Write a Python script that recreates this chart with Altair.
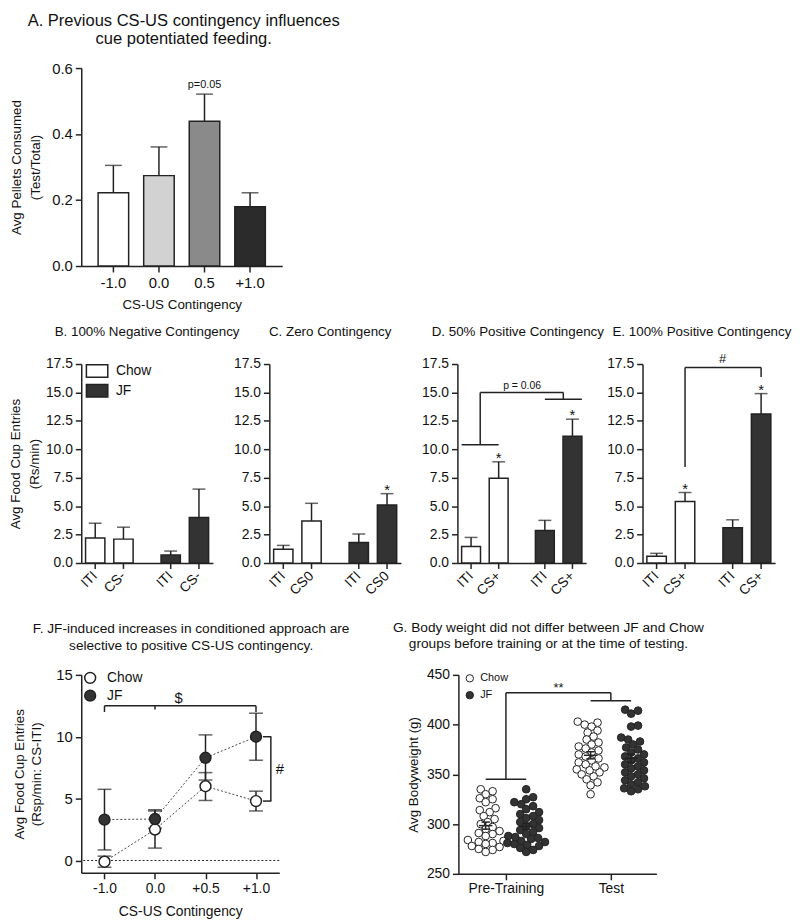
import altair as alt
import pandas as pd
import numpy as np

FONT = "Liberation Sans"
INK = "#222222"
DARK = "#333333"
TXT = "#111111"

# ---------------- Panel A data ----------------
a_cats = ["-1.0", "0.0", "0.5", "+1.0"]
a_mean = [0.222, 0.274, 0.439, 0.180]
a_upper = [0.305, 0.361, 0.521, 0.222]
a_note = ["", "", "p=0.05", ""]
A_FILLS = ["#ffffff", "#d2d2d2", "#8a8a8a", "#2b2b2b"]

# ---------------- Panels B-E data ----------------
groups = ["Chow", "Chow", "JF", "JF"]
conds = ["ITI", "CS", "ITI", "CS"]

b_labels = ["ITI", "CS-", "ITI", "CS-"]
b_mean = [2.2, 2.1, 0.7, 4.0]
b_upper = [3.5, 3.15, 1.05, 6.5]
b_star = ["", "", "", ""]

c_labels = ["ITI", "CS0", "ITI", "CS0"]
c_mean = [1.2, 3.7, 1.8, 5.1]
c_upper = [1.55, 5.25, 2.55, 6.1]
c_star = ["", "", "", "*"]

d_labels = ["ITI", "CS+", "ITI", "CS+"]
d_mean = [1.45, 7.45, 2.85, 11.15]
d_upper = [2.25, 8.9, 3.75, 12.65]
d_star = ["", "*", "", "*"]

e_labels = ["ITI", "CS+", "ITI", "CS+"]
e_mean = [0.6, 5.4, 3.1, 13.1]
e_upper = [0.85, 6.2, 3.8, 14.9]
e_star = ["", "*", "", "*"]

# brackets (y levels in data units)
d_br_low, d_br_top, d_br_jf = 10.4, 15.0, 14.4
e_br_start, e_br_top, e_br_end = 8.45, 17.2, 16.35

# ---------------- Panel F data ----------------
f_cats = ["-1.0", "0.0", "+0.5", "+1.0"]
f_chow = [-0.1, 2.5, 6.0, 4.8]
f_chow_lo = [-0.55, 1.0, 4.85, 4.0]
f_chow_hi = [0.35, 4.0, 7.1, 5.6]
f_jf = [3.3, 3.35, 8.3, 10.0]
f_jf_lo = [0.85, 2.6, 6.5, 8.1]
f_jf_hi = [5.75, 4.1, 10.15, 11.9]
f_dollar_y, f_hash_top, f_hash_bot = 12.5, 10.0, 4.8

# ---------------- Panel G data ----------------
g_chow_pre = [335, 333, 330, 326, 325, 322, 316, 314, 312, 308, 305, 302, 300, 297, 295,
              293, 291, 290, 288, 286, 284, 283, 282, 281, 280, 278, 277, 275, 274, 272]
g_jf_pre = [335, 327, 325, 322, 320, 318, 315, 312, 310, 308, 306, 304, 302, 300, 298, 296,
            294, 292, 290, 288, 286, 285, 283, 282, 280, 279, 278, 276, 274, 272, 281, 287]
g_chow_test = [403, 402, 400, 398, 394, 392, 388, 385, 382, 380, 378, 376, 374, 372, 370, 368,
               366, 364, 362, 360, 357, 355, 352, 350, 348, 345, 342, 339, 330, 354, 358]
g_jf_test = [415, 414, 411, 399, 398, 387, 385, 383, 380, 377, 375, 372, 370, 368, 366, 364,
             362, 360, 358, 356, 354, 352, 350, 348, 346, 344, 342, 340, 338, 336, 335, 333]
g_br_low, g_br_top, g_br_test = 345, 432, 424


def ttl(text, size, off, dx=0, lh=None, dy=0):
    kw = dict(text=text, fontSize=size, offset=off, frame="group", anchor="middle",
              dx=dx, dy=dy, fontWeight="normal", font=FONT, color=TXT)
    if lh is not None:
        kw["lineHeight"] = lh
    return alt.TitleParams(**kw)


# ======================= Panel A =======================
a_df = pd.DataFrame({"c": a_cats, "mean": a_mean, "upper": a_upper, "note": a_note})
A_W, A_H = 203, 200
xa_scale = alt.Scale(domain=a_cats, paddingInner=0.33, paddingOuter=0.37)
xa_axis = alt.Axis(title="CS-US Contingency", labelAngle=0, labelFontSize=15, titleFontSize=13.5,
                   labelPadding=4, titlePadding=7)
ya_scale = alt.Scale(domain=[0, 0.6], nice=False)
ya_axis = alt.Axis(values=[0, 0.2, 0.4, 0.6], format=".1f", labelFontSize=15,
                   title=["Avg Pellets Consumed", "(Test/Total)"], titleFontSize=13.5,
                   titleLineHeight=20, titlePadding=9)


def xa():
    return alt.X("c:N", scale=xa_scale, axis=xa_axis)


def ya(f):
    return alt.Y(f, scale=ya_scale, axis=ya_axis)


baseA = alt.Chart(a_df)
a_bars = baseA.mark_bar(stroke=INK, strokeWidth=1.5).encode(
    x=xa(), y=ya("mean:Q"),
    fill=alt.Fill("c:N", scale=alt.Scale(domain=a_cats, range=A_FILLS), legend=None))
a_err = baseA.mark_rule(color=INK, strokeWidth=1.5).encode(x=xa(), y=ya("mean:Q"), y2="upper:Q")
a_cap = baseA.mark_tick(color=INK, thickness=1.5, size=17).encode(x=xa(), y=ya("upper:Q"))
a_txt = baseA.mark_text(fontSize=11, dy=-6, baseline="alphabetic", color=TXT).encode(
    x=xa(), y=ya("upper:Q"), text="note:N")
panelA = alt.layer(a_err, a_cap, a_bars, a_txt).properties(
    width=A_W, height=A_H,
    title=ttl(["A. Previous CS-US contingency influences", "cue potentiated feeding."], 16.7, 14, 2, 18))

# ======================= Panels B-E =======================
BAR_H = 201
G_PI, G_PO = 0.37, 0.057
O_PI = 0.316
BP_ITI, BP_CS = 0.203, 0.797


def bar_panel(title, tdx, labels, means, uppers, stars, width, ytitle, legend, extras, tdy=0):
    df = pd.DataFrame({"g": groups, "cond": conds, "lab": labels, "mean": means,
                       "upper": uppers, "star": stars})
    gscale = alt.Scale(domain=["Chow", "JF"], paddingInner=G_PI, paddingOuter=G_PO)
    gaxis = alt.Axis(labels=False, ticks=False, title=None)
    yscale = alt.Scale(domain=[0, 17.5], nice=False)
    yaxis = alt.Axis(values=[0, 2.5, 5, 7.5, 10, 12.5, 15, 17.5], format=".1f", labelFontSize=14,
                     title=ytitle, titleFontSize=13.5, titleLineHeight=19, titlePadding=4)

    def X(bp=None):
        if bp is None:
            return alt.X("g:N", scale=gscale, axis=gaxis)
        return alt.X("g:N", scale=gscale, axis=gaxis, bandPosition=bp)

    def Y(f):
        return alt.Y(f, scale=yscale, axis=yaxis)

    xo = alt.XOffset("cond:N", scale=alt.Scale(domain=["ITI", "CS"], paddingInner=O_PI, paddingOuter=0))
    base = alt.Chart(df).encode(x=X(), xOffset=xo)
    bars = base.mark_bar(stroke=INK, strokeWidth=1.5).encode(
        y=Y("mean:Q"),
        fill=alt.Fill("g:N", scale=alt.Scale(domain=["Chow", "JF"], range=["#ffffff", DARK]),
                      legend=legend))
    err = base.mark_rule(color=INK, strokeWidth=1.5).encode(y=Y("mean:Q"), y2="upper:Q")
    cap = base.mark_tick(color=INK, thickness=1.5, size=13).encode(y=Y("upper:Q"))
    star = base.mark_text(fontSize=15, baseline="alphabetic", dy=1, color=TXT).encode(
        y=Y("upper:Q"), text="star:N")
    ticks = base.mark_rule(color=INK, strokeWidth=1.5).encode(y=alt.value(BAR_H), y2=alt.value(BAR_H + 6))
    labs = base.mark_text(angle=315, align="right", baseline="middle", fontSize=14, color=TXT).encode(
        y=alt.value(BAR_H + 11), text="lab:N")
    layers = [err, cap, bars, star, ticks, labs]
    for ex in extras:
        layers.append(ex(X, Y))
    return alt.layer(*layers).properties(width=width, height=BAR_H,
                                         title=ttl(["", title], 13.5, 19, tdx, lh=8, dy=tdy))


def hseg(g1, b1, g2, b2, yv):
    def make(X, Y):
        df = pd.DataFrame({"g": [g1], "g2": [g2], "y": [yv]})
        return alt.Chart(df).mark_rule(color=INK, strokeWidth=1.5).encode(
            x=X(b1), x2=alt.X2(field="g2", bandPosition=b2), y=Y("y:Q"))
    return make


def vseg(g1, b1, y1, y2):
    def make(X, Y):
        df = pd.DataFrame({"g": [g1], "y": [y1], "y2": [y2]})
        return alt.Chart(df).mark_rule(color=INK, strokeWidth=1.5).encode(
            x=X(b1), y=Y("y:Q"), y2="y2:Q")
    return make


def note(g1, b1, yv, text, dx, size, dy=-3):
    def make(X, Y):
        df = pd.DataFrame({"g": [g1], "y": [yv], "t": [text]})
        return alt.Chart(df).mark_text(fontSize=size, dx=dx, dy=dy, baseline="alphabetic", color=TXT).encode(
            x=X(b1), y=Y("y:Q"), text="t:N")
    return make


legB = alt.Legend(orient="none", legendX=6, legendY=-3, title=None, padding=0,
                  symbolType="M-1.2,-0.7H1.2V0.7H-1.2Z", symbolSize=324, symbolStrokeColor=INK,
                  symbolStrokeWidth=1.5, labelFontSize=14, labelFont=FONT, labelColor=TXT,
                  rowPadding=0, labelOffset=9)

panelB = bar_panel("B. 100% Negative Contingency", 0, b_labels, b_mean, b_upper, b_star, 133,
                   ["Avg Food Cup Entries", "(Rs/min)"], legB, [])
panelC = bar_panel("C. Zero Contingency", -5, c_labels, c_mean, c_upper, c_star, 133, None, None, [])
panelD = bar_panel("D. 50% Positive Contingency", -4, d_labels, d_mean, d_upper, d_star, 130, None, None, [
    hseg("Chow", 0.0, "Chow", BP_CS, d_br_low),
    vseg("Chow", 0.4, d_br_low, d_br_top),
    hseg("Chow", 0.4, "JF", 0.6, d_br_top),
    vseg("JF", 0.6, d_br_top, d_br_jf),
    hseg("JF", BP_ITI, "JF", 1.0, d_br_jf),
    note("JF", 0.5, d_br_top, "p = 0.06", -37, 10.5),
])
panelE = bar_panel("E. 100% Positive Contingency", -7, e_labels, e_mean, e_upper, e_star, 134, None, None, [
    vseg("Chow", BP_CS, e_br_start, e_br_top),
    hseg("Chow", BP_CS, "JF", BP_CS, e_br_top),
    vseg("JF", BP_CS, e_br_top, e_br_end),
    note("Chow", BP_CS, e_br_top, "#", 38, 13, -4),
], tdy=4)

row2 = alt.hconcat(panelB, panelC, panelD, panelE, spacing=57, bounds="flush").resolve_scale(
    fill="independent", xOffset="independent")

# ======================= Panel F =======================
f_rows = []
for grp, m, lo, hi in [("Chow", f_chow, f_chow_lo, f_chow_hi), ("JF", f_jf, f_jf_lo, f_jf_hi)]:
    for c, mv, lv, hv in zip(f_cats, m, lo, hi):
        f_rows.append({"c": c, "grp": grp, "mean": mv, "lo": lv, "hi": hv})
f_df = pd.DataFrame(f_rows)
F_W, F_H = 200, 200
fx_scale = alt.Scale(domain=f_cats, type="point", padding=0.46)
fx_axis = alt.Axis(title="CS-US Contingency", labelAngle=0, labelFontSize=14, titleFontSize=14,
                   labelPadding=3, titlePadding=9)
fy_scale = alt.Scale(domain=[-1, 15], nice=False, zero=False)
fy_axis = alt.Axis(values=[0, 5, 10, 15], format="d", labelFontSize=15,
                   title=["Avg Food Cup Entries", "(Rsp/min: CS-ITI)"], titleFontSize=13.5,
                   titleLineHeight=18, titlePadding=12)


def FX(f="c:N"):
    return alt.X(f, scale=fx_scale, axis=fx_axis)


def FY(f):
    return alt.Y(f, scale=fy_scale, axis=fy_axis)


baseF = alt.Chart(f_df)
f_zero = alt.Chart(pd.DataFrame({"z": [0]})).mark_rule(color=INK, strokeWidth=1, strokeDash=[2, 2]).encode(
    y=FY("z:Q"))
f_lines = baseF.mark_line(color="#444444", strokeWidth=1, strokeDash=[2, 2]).encode(
    x=FX(), y=FY("mean:Q"), detail="grp:N")
f_err = baseF.mark_rule(color=INK, strokeWidth=1.5).encode(x=FX(), y=FY("lo:Q"), y2="hi:Q")
f_cap_lo = baseF.mark_tick(color=INK, thickness=1.5, size=14).encode(x=FX(), y=FY("lo:Q"))
f_cap_hi = baseF.mark_tick(color=INK, thickness=1.5, size=14).encode(x=FX(), y=FY("hi:Q"))
legF = alt.Legend(orient="none", legendX=2, legendY=-4, title=None, padding=0, symbolType="circle",
                  symbolSize=121, symbolStrokeColor=INK, symbolStrokeWidth=1.5, labelFontSize=14,
                  labelFont=FONT, labelColor=TXT, rowPadding=0, labelOffset=10)
f_pts = baseF.mark_point(filled=True, size=121, stroke=INK, strokeWidth=1.5, opacity=1).encode(
    x=FX(), y=FY("mean:Q"),
    fill=alt.Fill("grp:N", scale=alt.Scale(domain=["Chow", "JF"], range=["#ffffff", DARK]), legend=legF))

f_br_df = pd.DataFrame({"c": ["-1.0"], "c2": ["+1.0"], "y": [f_dollar_y]})
f_br_h = alt.Chart(f_br_df).mark_rule(color=INK, strokeWidth=1.5).encode(x=FX(), x2="c2:N", y=FY("y:Q"))
f_br_t = alt.Chart(pd.DataFrame({"c": ["-1.0", "0.0", "+1.0"], "y": [f_dollar_y] * 3,
                                 "y2": [f_dollar_y - 0.5, f_dollar_y - 0.3, f_dollar_y - 0.5]})).mark_rule(
    color=INK, strokeWidth=1.5).encode(x=FX(), y=FY("y:Q"), y2="y2:Q")
f_dollar = alt.Chart(pd.DataFrame({"c": ["0.0"], "y": [f_dollar_y], "t": ["$"]})).mark_text(
    fontSize=15, dx=24, dy=-3, baseline="alphabetic", color=TXT).encode(x=FX(), y=FY("y:Q"), text="t:N")
f_hash_v = alt.Chart(pd.DataFrame({"c": ["+1.0"], "y": [f_hash_top], "y2": [f_hash_bot]})).mark_rule(
    color=INK, strokeWidth=1.5, xOffset=15).encode(x=FX(), y=FY("y:Q"), y2="y2:Q")
f_hash_h = alt.Chart(pd.DataFrame({"c": ["+1.0", "+1.0"], "c2": ["+1.0", "+1.0"],
                                   "y": [f_hash_top, f_hash_bot]})).mark_rule(
    color=INK, strokeWidth=1.5, xOffset=7, x2Offset=15.5).encode(x=FX(), x2="c2:N", y=FY("y:Q"))
f_hash = alt.Chart(pd.DataFrame({"c": ["+1.0"], "y": [(f_hash_top + f_hash_bot) / 2], "t": ["#"]})).mark_text(
    fontSize=15, dx=24, baseline="middle", color=TXT).encode(x=FX(), y=FY("y:Q"), text="t:N")

panelF = alt.layer(f_zero, f_lines, f_err, f_cap_lo, f_cap_hi, f_pts, f_br_h, f_br_t, f_dollar,
                   f_hash_v, f_hash_h, f_hash).properties(
    width=F_W, height=F_H,
    title=ttl(["", "F. JF-induced increases in conditioned approach are",
               "selective to positive CS-US contingency."], 13.8, 15, 11, 17))

# ======================= Panel G =======================
G_W, G_H = 200, 201
DIET_OFF = 0.193
X_PER_UNIT = 106.0
Y_PER_G = G_H / 200.0


def swarm(vals, diam=6.8):
    order = sorted(range(len(vals)), key=lambda i: vals[i])
    placed = []
    out = [0.0] * len(vals)
    for i in order:
        y = vals[i] * Y_PER_G
        k = 0
        found = None
        while found is None:
            cands = [0.0] if k == 0 else [float(k), -float(k)]
            for c in cands:
                if all((c - px) ** 2 + (y - py) ** 2 >= diam ** 2 for px, py in placed):
                    found = c
                    break
            k += 1
        placed.append((found, y))
        out[i] = found / X_PER_UNIT
    return out


g_rows, g_stats = [], []
for ph_i, diet, vals in [(0, "Chow", g_chow_pre), (0, "JF", g_jf_pre),
                         (1, "Chow", g_chow_test), (1, "JF", g_jf_test)]:
    center = ph_i + (-DIET_OFF if diet == "Chow" else DIET_OFF)
    for v, o in zip(vals, swarm(vals)):
        g_rows.append({"diet": diet, "w": v, "xp": center + o})
    arr = np.array(vals, dtype=float)
    m = arr.mean()
    se = arr.std(ddof=1) / np.sqrt(len(arr))
    g_stats.append({"xc": center, "xl": center - 0.064, "xr": center + 0.064,
                    "cl": center - 0.04, "cr": center + 0.04,
                    "m": m, "lo": m - se, "hi": m + se})
g_df = pd.DataFrame(g_rows)
gs_df = pd.DataFrame(g_stats)

gx_scale = alt.Scale(domain=[-0.453, 1.434], nice=False, zero=False)
gx_axis = alt.Axis(values=[0, 1], labelExpr="datum.value == 0 ? 'Pre-Training' : 'Test'", title=None,
                   labelFontSize=14, labelPadding=2, grid=False)
gy_scale = alt.Scale(domain=[250, 450], nice=False, zero=False)
gy_axis = alt.Axis(values=[250, 300, 350, 400, 450], format="d", labelFontSize=14,
                   title="Avg Bodyweight (g)", titleFontSize=13.5, titlePadding=6)


def GX(f):
    return alt.X(f, scale=gx_scale, axis=gx_axis)


def GY(f):
    return alt.Y(f, scale=gy_scale, axis=gy_axis)


legG = alt.Legend(orient="none", legendX=6, legendY=-2, title=None, padding=0, symbolType="circle",
                  symbolSize=56, symbolStrokeColor=INK, symbolStrokeWidth=1, labelFontSize=11,
                  labelFont=FONT, labelColor=TXT, rowPadding=4, labelOffset=5)
g_pts = alt.Chart(g_df).mark_point(filled=True, size=60, stroke=INK, strokeWidth=1, opacity=1).encode(
    x=GX("xp:Q"), y=GY("w:Q"),
    fill=alt.Fill("diet:N", scale=alt.Scale(domain=["Chow", "JF"], range=["#ffffff", DARK]), legend=legG))
g_mean = alt.Chart(gs_df).mark_rule(color=INK, strokeWidth=1.5).encode(x=GX("xl:Q"), x2="xr:Q", y=GY("m:Q"))
g_sem = alt.Chart(gs_df).mark_rule(color=INK, strokeWidth=1.5).encode(x=GX("xc:Q"), y=GY("lo:Q"), y2="hi:Q")
g_cap1 = alt.Chart(gs_df).mark_rule(color=INK, strokeWidth=1.5).encode(x=GX("cl:Q"), x2="cr:Q", y=GY("lo:Q"))
g_cap2 = alt.Chart(gs_df).mark_rule(color=INK, strokeWidth=1.5).encode(x=GX("cl:Q"), x2="cr:Q", y=GY("hi:Q"))

g_br_df = pd.DataFrame({
    "x1": [-DIET_OFF, 0, 0, 1, 1 - DIET_OFF],
    "x2": [DIET_OFF, 0, 1, 1, 1 + DIET_OFF],
    "y1": [g_br_low, g_br_low, g_br_top, g_br_top, g_br_test],
    "y2": [g_br_low, g_br_top, g_br_top, g_br_test, g_br_test],
})
g_br = alt.Chart(g_br_df).mark_rule(color=INK, strokeWidth=1.5).encode(
    x=GX("x1:Q"), x2="x2:Q", y=GY("y1:Q"), y2="y2:Q")
g_star = alt.Chart(pd.DataFrame({"x": [0.5], "y": [g_br_top], "t": ["**"]})).mark_text(
    fontSize=13, dy=-1, baseline="alphabetic", color=TXT).encode(x=GX("x:Q"), y=GY("y:Q"), text="t:N")

panelG = alt.layer(g_pts, g_mean, g_sem, g_cap1, g_cap2, g_br, g_star).properties(
    width=G_W, height=G_H,
    title=ttl(["", "G. Body weight did not differ between JF and Chow",
               "groups before training or at the time of testing."], 13.8, 17, -9, 17))

row3 = alt.hconcat(panelF, panelG, spacing=181, bounds="flush").resolve_scale(fill="independent")

chart = alt.vconcat(panelA, row2, row3, spacing=5, bounds="full").properties(
    padding={"left": 0, "top": 0, "right": 0, "bottom": 0}
).configure(font=FONT).configure_view(stroke=None).configure_axis(
    labelFont=FONT, titleFont=FONT, domainColor=INK, domainWidth=1.5, tickColor=INK, tickWidth=1.5,
    tickSize=6, labelColor=TXT, titleColor=TXT, titleFontWeight="normal", grid=False, labelPadding=3
).configure_legend(labelFont=FONT, labelColor=TXT)

chart.save("out.html", embed_options={"renderer": "svg", "actions": False})
